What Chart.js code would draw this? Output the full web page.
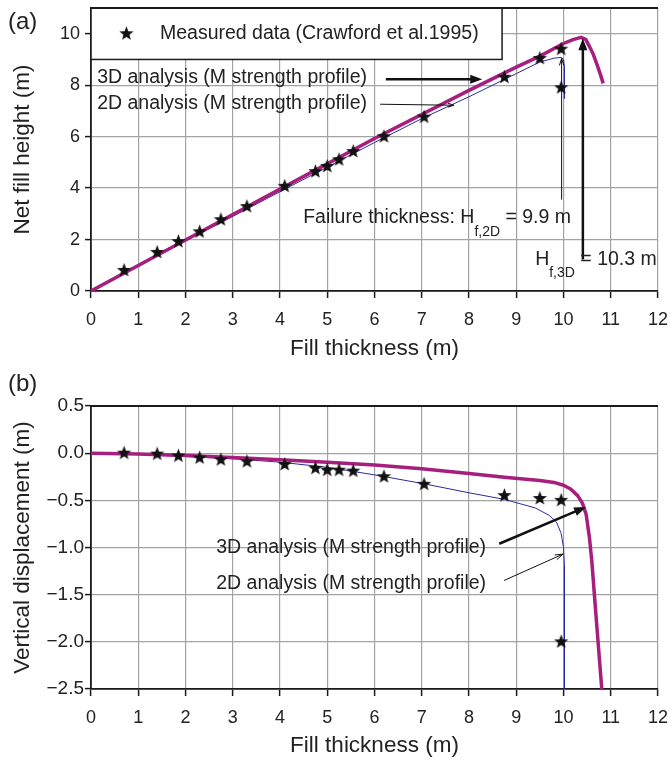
<!DOCTYPE html>
<html><head><meta charset="utf-8">
<script src="https://cdn.jsdelivr.net/npm/chart.js@4"></script>
<style>
html,body{margin:0;padding:0;background:#fff;}
#wrap{position:relative;width:670px;height:763px;overflow:hidden;background:#fff;}
canvas{position:absolute;left:0;}
</style></head><body>
<div id="wrap">
<canvas id="ca" width="670" height="365" style="top:0"></canvas>
<canvas id="cb" width="670" height="398" style="top:365px"></canvas>
</div>
<script>
// ---------- data ----------
const fillThickness   = [0.7, 1.4, 1.85, 2.3, 2.75, 3.3, 4.1, 4.75, 5.0, 5.25, 5.55, 6.2, 7.05, 8.75, 9.5, 9.95, 9.95];
const measuredHeight  = [0.8, 1.5, 1.92, 2.3, 2.77, 3.28, 4.07, 4.64, 4.84, 5.1, 5.42, 6.0, 6.76, 8.31, 9.04, 9.4, 7.9];
const measuredDisp    = [0.0, -0.01, -0.03, -0.05, -0.07, -0.09, -0.12, -0.16, -0.18, -0.18, -0.19, -0.25, -0.33, -0.45, -0.48, -0.5, -2.0];

const height3DX = [0, 2, 4, 6, 8, 9, 9.5, 10, 10.2, 10.37, 10.47, 10.55, 10.63, 10.71, 10.78, 10.84];
const height3DY = [0, 1.98, 3.96, 5.93, 7.8, 8.7, 9.13, 9.62, 9.77, 9.86, 9.78, 9.5, 9.2, 8.8, 8.42, 8.07];
const height2DX = [0, 2, 4, 6, 7, 8, 9, 9.5, 9.8, 9.95, 10.0, 10.02, 10.02];
const height2DY = [0, 1.94, 3.86, 5.77, 6.7, 7.55, 8.45, 8.9, 9.05, 9.08, 9.0, 8.7, 7.48];

const disp3DX = [0, 1, 2, 3, 4, 5, 6, 7, 8, 8.75, 9.5, 9.8, 10.0, 10.15, 10.3, 10.4, 10.48, 10.55, 10.6, 10.7, 10.81];
const disp3DY = [0, -0.01, -0.025, -0.045, -0.07, -0.095, -0.125, -0.165, -0.215, -0.255, -0.29, -0.31, -0.34, -0.38, -0.45, -0.53, -0.65, -0.9, -1.15, -1.8, -2.5];
const disp2DX = [0, 1, 2, 3, 4, 5, 6, 7, 8, 8.75, 9.4, 9.7, 9.85, 9.95, 10.0, 10.02, 10.02];
const disp2DY = [0, -0.015, -0.035, -0.06, -0.095, -0.15, -0.23, -0.32, -0.42, -0.49, -0.58, -0.66, -0.73, -0.85, -1.0, -1.2, -2.5];

const xTicks      = [0,1,2,3,4,5,6,7,8,9,10,11,12];
const heightTicks = [0,2,4,6,8,10];
const dispTicks   = [0.5,0.0,-0.5,-1.0,-1.5,-2.0,-2.5];

const legendLabel = 'Measured data (Crawford et al.1995)';
const label3D = '3D analysis (M strength profile)';
const label2D = '2D analysis (M strength profile)';

// ---------- styling ----------
const FONT = "'Liberation Sans', Arial, Helvetica, sans-serif";
const TXT = '#222';
const MAG = '#a61f7d';
const NAVY = '#2b2ba0';
const GRID = '#a3a3a3';
const AX = '#1a1a1a';

function pts(xs, ys){ return xs.map((x,i)=>({x:x, y:ys[i]})); }

function makeStar(r){
  const s = Math.ceil(r*2+2);
  const c = document.createElement('canvas'); c.width = s; c.height = s;
  const g = c.getContext('2d'); g.fillStyle = '#111'; g.beginPath();
  for (let i=0;i<10;i++){
    const rr = (i%2) ? r*0.42 : r;
    const a = -Math.PI/2 + i*Math.PI/5;
    g.lineTo(s/2 + rr*Math.cos(a), s/2 + rr*Math.sin(a));
  }
  g.closePath(); g.fill();
  return c;
}
const STAR = makeStar(7.5);

function arrow(ctx, x1, y1, x2, y2, w, hl, hw, filled){
  const a = Math.atan2(y2-y1, x2-x1);
  ctx.save();
  ctx.strokeStyle = '#111'; ctx.fillStyle = '#111'; ctx.lineWidth = w; ctx.lineCap = 'butt';
  const ex = filled ? x2 - Math.cos(a)*hl*0.8 : x2, ey = filled ? y2 - Math.sin(a)*hl*0.8 : y2;
  ctx.beginPath(); ctx.moveTo(x1,y1); ctx.lineTo(ex,ey); ctx.stroke();
  if (hl > 0){
    const bx = x2 - Math.cos(a)*hl, by = y2 - Math.sin(a)*hl;
    const px = -Math.sin(a)*hw, py = Math.cos(a)*hw;
    ctx.beginPath();
    if (filled){
      ctx.moveTo(x2,y2); ctx.lineTo(bx+px,by+py); ctx.lineTo(bx-px,by-py); ctx.closePath(); ctx.fill();
    } else {
      ctx.lineWidth = Math.max(1, w);
      ctx.moveTo(bx+px,by+py); ctx.lineTo(x2,y2); ctx.lineTo(bx-px,by-py); ctx.stroke();
    }
  }
  ctx.restore();
}

function text(ctx, str, x, y, size){
  ctx.save(); ctx.font = size + 'px ' + FONT; ctx.fillStyle = TXT;
  ctx.textAlign = 'left'; ctx.textBaseline = 'middle'; ctx.fillText(str, x, y); ctx.restore();
}
function subText(ctx, parts, x, y, size, subSize, subDrop){
  ctx.save(); ctx.fillStyle = TXT; ctx.textAlign = 'left'; ctx.textBaseline = 'middle';
  let cx = x;
  parts.forEach(p => {
    ctx.font = (p[1] ? subSize : size) + 'px ' + FONT;
    ctx.fillText(p[0], cx, p[1] ? y + subDrop : y);
    cx += ctx.measureText(p[0]).width;
  });
  ctx.restore();
}

function frameTop(chart){
  const {ctx, chartArea:a} = chart;
  ctx.save(); ctx.strokeStyle = AX; ctx.lineWidth = 1.8;
  ctx.beginPath(); ctx.moveTo(a.left, a.top); ctx.lineTo(a.right, a.top); ctx.stroke(); ctx.restore();
}

function xScaleOpts(titlePadBottom){
  return {
    type:'linear', min:0, max:12,
    afterFit(s){ s.height = 74; s.paddingLeft = 0; s.paddingRight = 0; },
    afterBuildTicks(s){ s.ticks = xTicks.map(v=>({value:v})); },
    ticks:{ font:{family:FONT, size:18}, color:TXT, padding:11, maxRotation:0, autoSkip:false },
    grid:{ color:GRID, lineWidth:1.2, tickColor:AX, tickLength:7, tickWidth:1.5 },
    border:{ color:AX, width:1.8 },
    title:{ display:true, text:'Fill thickness (m)', color:TXT, font:{family:FONT, size:22.5, lineHeight:1.2}, padding:{top:0, bottom:titlePadBottom} }
  };
}

// ---------- chart (a) ----------
const annotA = {
  id:'annotA',
  beforeDatasetsDraw(chart){
    const {ctx, scales:{x, y}} = chart;
    const l = x.getPixelForValue(0), r = x.getPixelForValue(8.7);
    const t = y.getPixelForValue(11), b = y.getPixelForValue(9.0);
    ctx.save(); ctx.fillStyle = '#fff'; ctx.fillRect(l, t, r-l, b-t);
    ctx.strokeStyle = AX; ctx.lineWidth = 1.5; ctx.strokeRect(l, t, r-l, b-t); ctx.restore();
  },
  afterDatasetsDraw(chart){
    const {ctx, scales:{x, y}} = chart;
    frameTop(chart);
    const X = v => x.getPixelForValue(v), Y = v => y.getPixelForValue(v);
    ctx.drawImage(STAR, X(0.75) - STAR.width/2, Y(10.0) - STAR.height/2);
    text(ctx, legendLabel, X(1.46), Y(10.0), 19.5);
    text(ctx, label3D, X(0.13), Y(8.3), 19.5);
    text(ctx, label2D, X(0.13), Y(7.3), 19.5);
    arrow(ctx, X(6.24), Y(8.23), X(8.28), Y(8.23), 2.5, 12, 4.5, true);
    arrow(ctx, X(6.12), Y(7.26), X(7.68), Y(7.22), 1, 6, 2, false);
    arrow(ctx, X(9.96), Y(3.55), X(9.96), Y(9.04), 1, 7, 2.2, false);
    arrow(ctx, X(10.41), Y(1.23), X(10.41), Y(9.82), 2.5, 12, 4.5, true);
    subText(ctx, [['Failure thickness: H', false], ['f,2D', true], [' = 9.9 m', false]], X(4.49), Y(2.85), 19.5, 14, 14);
    subText(ctx, [['H', false], ['f,3D', true], [' = 10.3 m', false]], X(9.4), Y(1.23), 19.5, 14, 14);
  },
  afterDraw(chart){
    text(chart.ctx, '(a)', 8, 22, 24);
  }
};

new Chart(document.getElementById('ca'), {
  type:'scatter',
  data:{ datasets:[
    { label:'Measured', data:pts(fillThickness, measuredHeight), pointStyle:STAR, pointRadius:7, showLine:false },
    { label:'3D', data:pts(height3DX, height3DY), showLine:true, borderColor:MAG, borderWidth:3.5, pointRadius:0, tension:0, borderJoinStyle:'round' },
    { label:'2D', data:pts(height2DX, height2DY), showLine:true, borderColor:NAVY, borderWidth:1, pointRadius:0, tension:0 }
  ]},
  options:{
    responsive:false, animation:false, events:[],
    layout:{ padding:{ top:7, right:12, left:0, bottom:0 } },
    plugins:{ legend:{display:false}, tooltip:{enabled:false} },
    scales:{
      x: xScaleOpts(2.5),
      y: {
        type:'linear', min:0, max:11,
        afterFit(s){ s.width = 91; s.paddingTop = 0; s.paddingBottom = 0; },
        afterBuildTicks(s){ s.ticks = heightTicks.map(v=>({value:v})); },
        ticks:{ font:{family:FONT, size:18}, color:TXT, padding:5 },
        grid:{ color:GRID, lineWidth:1.2, tickColor:AX, tickLength:6, tickWidth:1.5 },
        border:{ color:AX, width:1.8 },
        title:{ display:true, text:'Net fill height (m)', color:TXT, font:{family:FONT, size:22.5, lineHeight:1.2}, padding:{top:9.5, bottom:0} }
      }
    }
  },
  plugins:[annotA]
});

// ---------- chart (b) ----------
const annotB = {
  id:'annotB',
  afterDatasetsDraw(chart){
    const {ctx, scales:{x, y}} = chart;
    frameTop(chart);
    const X = v => x.getPixelForValue(v), Y = v => y.getPixelForValue(v);
    text(ctx, label3D, X(2.65), Y(-1.0), 19.5);
    text(ctx, label2D, X(2.65), Y(-1.38), 19.5);
    arrow(ctx, X(8.64), Y(-0.96), X(10.48), Y(-0.57), 2.5, 12, 4.5, true);
    arrow(ctx, X(8.74), Y(-1.35), X(9.99), Y(-1.07), 1, 8, 2.6, false);
  },
  afterDraw(chart){
    text(chart.ctx, '(b)', 8, 19, 24);
  }
};

new Chart(document.getElementById('cb'), {
  type:'scatter',
  data:{ datasets:[
    { label:'Measured', data:pts(fillThickness, measuredDisp), pointStyle:STAR, pointRadius:7, showLine:false },
    { label:'3D', data:pts(disp3DX, disp3DY), showLine:true, borderColor:MAG, borderWidth:3.5, pointRadius:0, tension:0, borderJoinStyle:'round' },
    { label:'2D', data:pts(disp2DX, disp2DY), showLine:true, borderColor:NAVY, borderWidth:1, pointRadius:0, tension:0 }
  ]},
  options:{
    responsive:false, animation:false, events:[],
    layout:{ padding:{ top:41, right:12, left:0, bottom:0 } },
    plugins:{ legend:{display:false}, tooltip:{enabled:false} },
    scales:{
      x: xScaleOpts(3.5),
      y: {
        type:'linear', min:-2.5, max:0.5,
        afterFit(s){ s.width = 91; s.paddingTop = 0; s.paddingBottom = 0; },
        afterBuildTicks(s){ s.ticks = dispTicks.map(v=>({value:v})); },
        ticks:{ font:{family:FONT, size:19}, color:TXT, padding:1,
          callback:v => (v < -1e-9 ? '\u2212' : '') + Math.abs(v).toFixed(1) },
        grid:{ color:GRID, lineWidth:1.2, tickColor:AX, tickLength:6, tickWidth:1.5 },
        border:{ color:AX, width:1.8 },
        title:{ display:true, text:'Vertical displacement (m)', color:TXT, font:{family:FONT, size:22.5, lineHeight:1.2}, padding:{top:9.5, bottom:0} }
      }
    }
  },
  plugins:[annotB]
});
</script>
</body></html>
